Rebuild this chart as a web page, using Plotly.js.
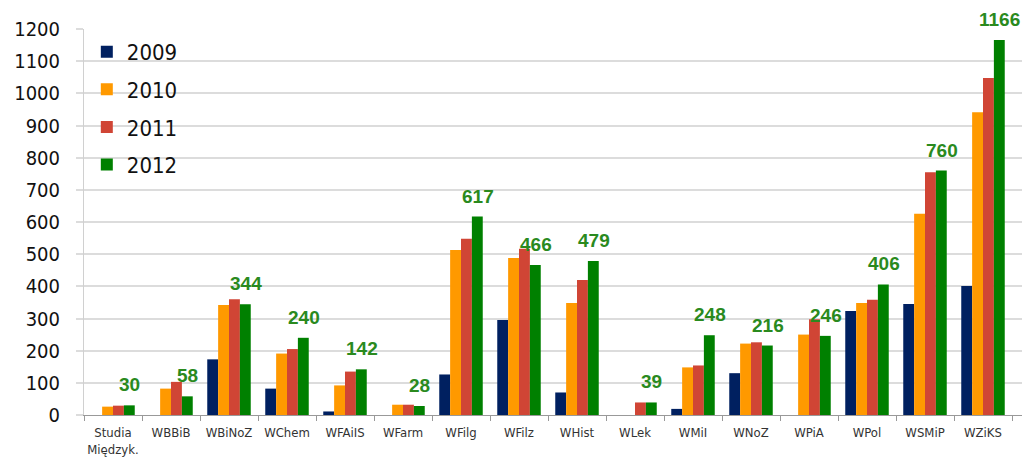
<!DOCTYPE html>
<html>
<head>
<meta charset="utf-8">
<script src="https://cdn.plot.ly/plotly-3.0.1.min.js"></script>
<style>html,body{margin:0;padding:0;background:#fff;}#chart{width:1033px;height:457px;}</style>
</head>
<body>
<div id="chart"></div>
<script>
const categories = ["Studia<br>Międzyk.", "WBBiB", "WBiNoZ", "WChem", "WFAiIS", "WFarm", "WFilg", "WFilz", "WHist", "WLek", "WMiI", "WNoZ", "WPiA", "WPol", "WSMiP", "WZiKS"];
const years = ["2009", "2010", "2011", "2012"];
const v2009 = [null, null, 173, 82, 11, null, 126, 295, 70, null, 19, 130, null, 323, 345, 401];
const v2010 = [26, 82, 342, 191, 92, 32, 513, 488, 348, null, 148, 222, 250, 348, 626, 941];
const v2011 = [29, 103, 360, 205, 135, 32, 548, 517, 420, 39, 154, 226, 298, 358, 755, 1048];
const v2012 = [30, 58, 344, 240, 142, 28, 617, 466, 479, 39, 248, 216, 246, 406, 760, 1166];
const colors = ["#002060", "#ff9900", "#d04535", "#008000"];
const series = [v2009, v2010, v2011, v2012];

const traces = series.map((vals, i) => ({
  type: "bar",
  name: years[i],
  x: categories,
  y: vals,
  marker: {color: colors[i], line: {width: 0}},
  legendgroup: years[i],
  hoverinfo: "x+y+name"
}));

const annotations = categories.map((c, i) => ({
  x: c, y: v2012[i], xref: "x", yref: "y",
  text: "<b>" + String(v2012[i]) + "</b>",
  showarrow: false,
  xshift: 16.5, yshift: 8, yanchor: "bottom",
  font: {family: "Liberation Sans, Arial, sans-serif", size: 19, color: "#2a8a1e"}
}));

const layout = {
  width: 1033, height: 457,
  margin: {l: 84, r: 11, t: 29, b: 42},
  paper_bgcolor: "#fff", plot_bgcolor: "#fff",
  barmode: "group", bargap: 0.25, bargroupgap: 0,
  showlegend: true,
  legend: {
    x: 0.003, y: 0.995, xanchor: "left", yanchor: "top",
    bgcolor: "rgba(0,0,0,0)",
    font: {family: "DejaVu Sans Condensed, DejaVu Sans, sans-serif", size: 22, color: "#111"},
    tracegroupgap: 6, itemwidth: 30
  },
  xaxis: {
    type: "category",
    tickangle: 0,
    tickfont: {family: "DejaVu Sans Condensed, DejaVu Sans, sans-serif", size: 13, color: "#333"},
    ticks: "outside", tickson: "boundaries", ticklen: 5, tickcolor: "#999",
    showline: true, linecolor: "#999", linewidth: 1,
    showgrid: false, ticklabelstandoff: 5,
    fixedrange: true
  },
  yaxis: {
    range: [0, 1200], dtick: 100,
    tickfont: {family: "DejaVu Sans Condensed, DejaVu Sans, sans-serif", size: 20, color: "#111"},
    ticks: "outside", ticklen: 7, tickcolor: "#dcdcdc", tickwidth: 2,
    showgrid: true, gridcolor: "#dcdcdc", gridwidth: 2,
    showline: true, linecolor: "#d0d0d0", linewidth: 1,
    zeroline: false, ticklabelstandoff: 12,
    fixedrange: true
  },
  annotations: annotations
};

Plotly.newPlot("chart", traces, layout, {displayModeBar: false, staticPlot: true});
</script>
</body>
</html>
